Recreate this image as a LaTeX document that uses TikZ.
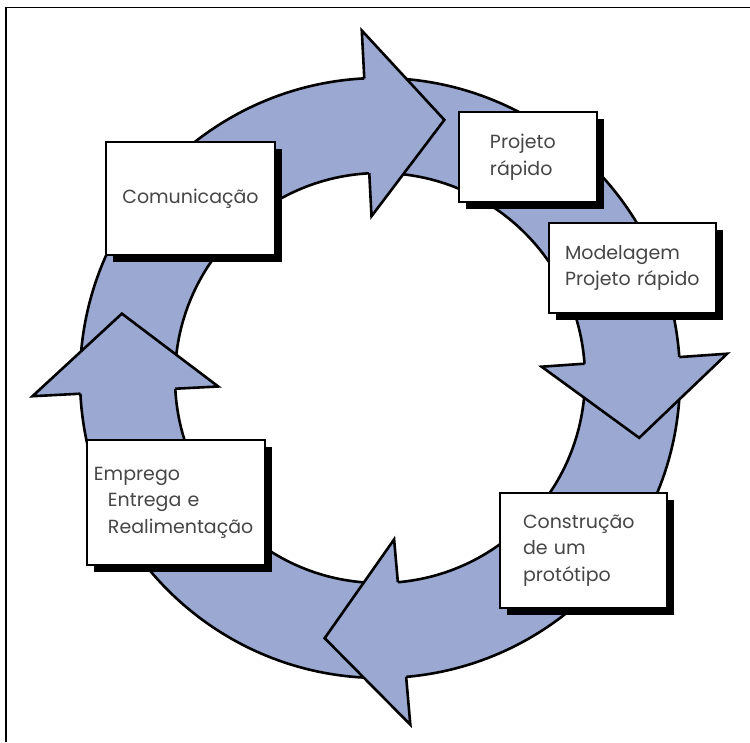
\documentclass[tikz,border=0pt]{standalone}
\usepackage{fontspec}
\setmainfont{Poppins}
\usetikzlibrary{shadows}
\definecolor{bandblue}{RGB}{155,169,210}
\definecolor{textgray}{RGB}{70,70,70}
\tikzset{
  ring/.style={draw=black, line width=2.6pt, fill=bandblue},
  headline/.style={draw=black, line width=2.6pt, line join=miter},
  stagebox/.style={draw=black, line width=2.6pt, fill=white, text=textgray, align=left,
    font=\fontsize{19}{26.5}\selectfont,
    general shadow={fill=black, shadow xshift=7pt, shadow yshift=-7pt}},
}
\begin{document}
\begin{tikzpicture}[x=1pt,y=1pt]
\useasboundingbox (-380,-364) rectangle (370,378);
\coordinate (O) at (0,0);
%anel
\path[ring, even odd rule] (O) circle (300) (O) circle (205);
%pontas das setas
\foreach \ang in {93,4,-85,183}{
  \pgfmathsetmacro{\tipang}{\ang-17}
  \fill[bandblue] (\ang:162) -- (\tipang:266) -- (\ang:348) -- cycle;
  \draw[headline] (\ang:300) -- (\ang:348) -- (\tipang:266) -- (\ang:162) -- (\ang:205);
}
%etapas
\node[stagebox, align=center, text width=169, inner xsep=0, minimum height=113] (com) at (-189.5,179.5) {Comunicação};
\node[stagebox, text width=76, inner xsep=31, minimum height=90] (proj) at (148,221) {Projeto\\rápido};
\node[stagebox, text width=135, inner xsep=16, minimum height=90] (mod) at (252.5,110) {Modelagem\\\mbox{Projeto rápido}};
\node[stagebox, text width=121, inner xsep=23, minimum height=115] (cons) at (203.5,-172.5) {Construção\\\mbox{de um}\\protótipo};
\node[stagebox, text width=164, inner xsep=7, minimum height=125] (emp) at (-204,-124.5) {Emprego\\\hspace*{14pt}\mbox{Entrega e}\\\hspace*{14pt}\mbox{Realimentação}};
%moldura
\draw[line width=1.8pt] (-374,-364) -- (-374,370.5) -- (370,370.5);
\end{tikzpicture}
\end{document}
